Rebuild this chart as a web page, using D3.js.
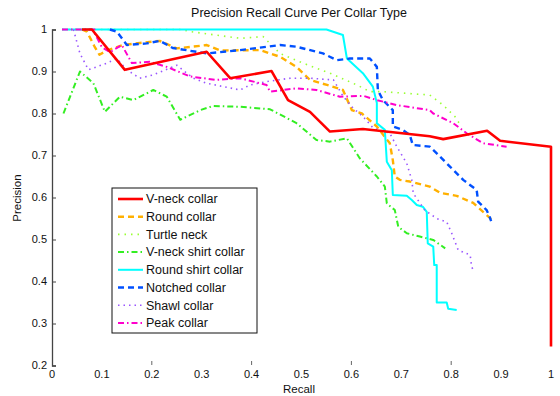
<!DOCTYPE html>
<html>
<head>
<meta charset="utf-8">
<script src="https://cdn.jsdelivr.net/npm/d3@7"></script>
<style>
  body { margin: 0; background: #fff; }
  text { font-family: "Liberation Sans", Arial, sans-serif; fill: #111; }
</style>
</head>
<body>
<div></div>
<script>
const names = ["V-neck collar", "Round collar", "Turtle neck", "V-neck shirt collar",
  "Round shirt collar", "Notched collar", "Shawl collar", "Peak collar"];

const xTicks = [0, 0.1, 0.2, 0.3, 0.4, 0.5, 0.6, 0.7, 0.8, 0.9, 1];
const yTicks = [0.2, 0.3, 0.4, 0.5, 0.6, 0.7, 0.8, 0.9, 1];

// [recall, precision] pairs
const vneck = [[0.06,1],[0.08,1],[0.146,0.904],[0.31,0.947],[0.357,0.884],[0.44,0.901],
  [0.473,0.832],[0.517,0.804],[0.557,0.757],[0.623,0.763],[0.757,0.746],[0.784,0.739],
  [0.872,0.759],[0.898,0.735],[1,0.721],[1,0.245]];
const round = [[0.06,1],[0.07,0.995],[0.085,0.96],[0.095,0.94],[0.112,0.951],[0.142,0.963],
  [0.176,0.968],[0.216,0.973],[0.25,0.955],[0.31,0.963],[0.337,0.95],[0.417,0.951],
  [0.457,0.935],[0.49,0.911],[0.517,0.88],[0.551,0.868],[0.583,0.856],[0.601,0.808],
  [0.621,0.8],[0.651,0.769],[0.677,0.729],[0.683,0.689],[0.687,0.65],[0.697,0.642],
  [0.717,0.638],[0.757,0.626],[0.778,0.611],[0.811,0.604],[0.844,0.587],[0.878,0.551],[0.881,0.545]];
const turtle = [[0.02,1],[0.26,1],[0.277,0.995],[0.377,0.979],[0.423,0.983],[0.457,0.943],
  [0.503,0.92],[0.557,0.896],[0.611,0.868],[0.637,0.852],[0.663,0.852],[0.757,0.844],
  [0.784,0.82],[0.808,0.792],[0.818,0.773]];
const vshirt = [[0.023,0.8],[0.056,0.9],[0.083,0.872],[0.106,0.804],[0.136,0.84],[0.163,0.832],
  [0.203,0.856],[0.23,0.84],[0.257,0.785],[0.297,0.808],[0.323,0.818],[0.377,0.816],
  [0.437,0.81],[0.49,0.777],[0.53,0.737],[0.557,0.733],[0.591,0.741],[0.617,0.693],
  [0.651,0.65],[0.667,0.626],[0.671,0.586],[0.687,0.57],[0.694,0.53],[0.711,0.515],
  [0.737,0.507],[0.764,0.499],[0.788,0.479]];
const rshirt = [[0.02,1],[0.55,1],[0.583,0.987],[0.591,0.931],[0.623,0.896],[0.643,0.864],
  [0.651,0.825],[0.651,0.777],[0.667,0.761],[0.671,0.685],[0.681,0.665],[0.683,0.606],
  [0.711,0.604],[0.721,0.594],[0.731,0.582],[0.743,0.578],[0.751,0.566],[0.753,0.491],
  [0.764,0.483],[0.766,0.439],[0.771,0.439],[0.771,0.35],[0.791,0.35],[0.794,0.335],[0.811,0.332]];
const notched = [[0.116,1],[0.13,0.995],[0.15,0.963],[0.19,0.967],[0.216,0.973],[0.242,0.956],
  [0.31,0.943],[0.377,0.951],[0.457,0.963],[0.49,0.959],[0.543,0.943],[0.571,0.927],
  [0.597,0.931],[0.637,0.931],[0.651,0.911],[0.653,0.856],[0.663,0.832],[0.683,0.808],
  [0.683,0.769],[0.703,0.761],[0.717,0.749],[0.723,0.725],[0.757,0.721],[0.771,0.705],
  [0.798,0.673],[0.824,0.642],[0.851,0.618],[0.854,0.59],[0.871,0.57],[0.878,0.551],[0.88,0.544]];
const shawl = [[0.043,1],[0.056,0.943],[0.073,0.904],[0.11,0.92],[0.13,0.931],[0.15,0.904],
  [0.176,0.884],[0.203,0.892],[0.25,0.915],[0.283,0.884],[0.31,0.872],[0.377,0.856],
  [0.397,0.868],[0.43,0.876],[0.477,0.884],[0.517,0.884],[0.564,0.88],[0.584,0.84],
  [0.604,0.812],[0.624,0.792],[0.644,0.765],[0.677,0.753],[0.691,0.721],[0.711,0.681],
  [0.721,0.642],[0.724,0.61],[0.747,0.57],[0.771,0.55],[0.791,0.542],[0.801,0.515],
  [0.814,0.475],[0.838,0.463],[0.841,0.435],[0.846,0.423]];
const peak = [[0.02,1],[0.085,1],[0.086,0.99],[0.1,0.958],[0.116,0.946],[0.14,0.963],
  [0.16,0.92],[0.196,0.923],[0.23,0.911],[0.277,0.888],[0.33,0.88],[0.377,0.884],
  [0.43,0.868],[0.437,0.852],[0.49,0.86],[0.53,0.856],[0.577,0.84],[0.624,0.842],
  [0.651,0.832],[0.691,0.82],[0.757,0.808],[0.764,0.8],[0.804,0.777],[0.831,0.753],
  [0.864,0.729],[0.911,0.721]];

const seriesData = [vneck, round, turtle, vshirt, rshirt, notched, shawl, peak];
const colors = ["#ff0000", "#ffb000", "#99ff33", "#33ee22", "#00ffff", "#0050ff", "#9955ff", "#ff00cc"];
const dashes = [null, "6,4", "1.5,5", "6,3,1.5,3", null, "6,4", "1.5,4", "6,3,1.5,3"];
const widths = [2.6, 2.4, 1.6, 2, 2, 2.4, 1.6, 2];

const svg = d3.select("div").append("svg").attr("width", 560).attr("height", 396);

const x = d3.scaleLinear().domain([0, 1]).range([52, 551]);
const y = d3.scaleLinear().domain([0.2, 1]).range([365.5, 29.5]);

// title and axis labels
svg.append("text").attr("x", 299).attr("y", 17).attr("text-anchor", "middle")
  .style("font-size", "12.5px").text("Precision Recall Curve Per Collar Type");
svg.append("text").attr("x", 299).attr("y", 393).attr("text-anchor", "middle")
  .style("font-size", "11.5px").text("Recall");
svg.append("text").attr("transform", "translate(21,198) rotate(-90)").attr("text-anchor", "middle")
  .style("font-size", "11.5px").text("Precision");

// y axis
const yAxis = svg.append("g").attr("transform", "translate(52,0)")
  .call(d3.axisRight(y).tickValues(yTicks).tickSize(4).tickFormat(""));
yAxis.select(".domain").attr("stroke", "#444").attr("stroke-width", 1.3);
yAxis.selectAll(".tick line").attr("stroke", "#444");
svg.selectAll(".ylab").data(yTicks).enter().append("text")
  .attr("x", 47).attr("y", d => y(d)).attr("dy", "0.35em").attr("text-anchor", "end")
  .style("font-size", "11px").text(d => d);

// x axis: labels, plus the faint ticks that show
svg.selectAll(".xlab").data(xTicks).enter().append("text")
  .attr("x", d => x(d)).attr("y", 378).attr("text-anchor", "middle")
  .style("font-size", "11px").text(d => d);
svg.selectAll(".xtick").data([0.2, 0.4, 0.6, 0.8]).enter().append("line")
  .attr("x1", d => x(d)).attr("x2", d => x(d)).attr("y1", 361).attr("y2", 365)
  .attr("stroke", "#666");

// curves (red on top)
const line = d3.line().x(d => x(d[0])).y(d => y(d[1]));
const order = [1, 2, 3, 4, 5, 6, 7, 0];
svg.selectAll(".curve").data(order).enter().append("path")
  .attr("d", i => line(seriesData[i]))
  .attr("fill", "none")
  .attr("stroke", i => colors[i])
  .attr("stroke-width", i => widths[i])
  .attr("stroke-dasharray", i => dashes[i])
  .attr("stroke-linejoin", "round");

// legend
const leg = svg.append("g");
leg.append("rect").attr("x", 112).attr("y", 188).attr("width", 145).attr("height", 145)
  .attr("fill", "#fff").attr("stroke", "#111").attr("stroke-width", 1);
const rowY = i => 199 + i * 17.7;
names.forEach((n, i) => {
  leg.append("line").attr("x1", 118).attr("x2", 143).attr("y1", rowY(i)).attr("y2", rowY(i))
    .attr("stroke", colors[i]).attr("stroke-width", widths[i]).attr("stroke-dasharray", dashes[i]);
  leg.append("text").attr("x", 146).attr("y", rowY(i)).attr("dy", "0.35em")
    .style("font-size", "12.5px").text(n);
});
</script>
</body>
</html>
